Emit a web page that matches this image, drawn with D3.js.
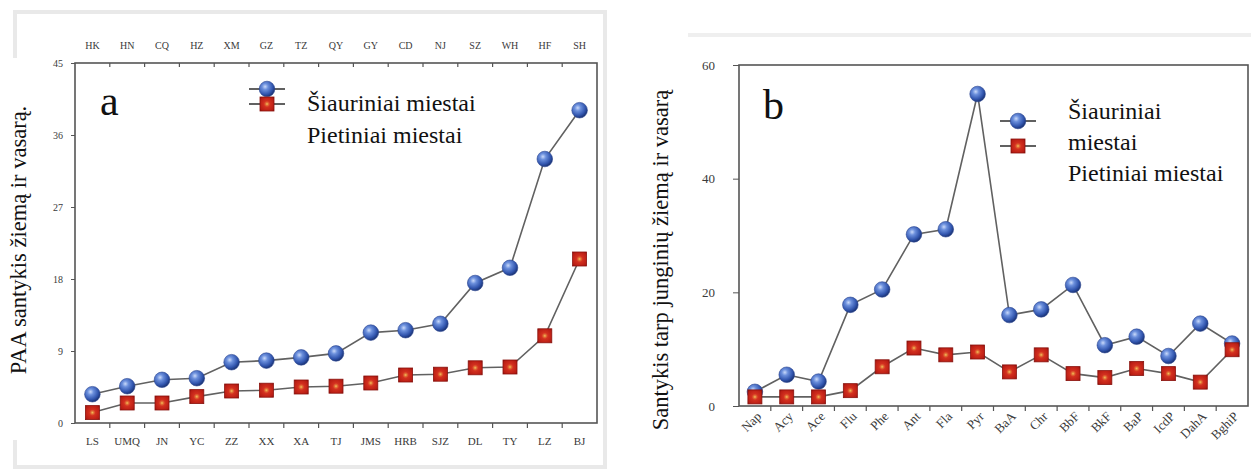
<!DOCTYPE html>
<html>
<head>
<meta charset="utf-8">
<script src="https://cdn.jsdelivr.net/npm/d3@7"></script>
<style>
body { margin: 0; background: #fff; }
svg { display: block; }
.tick text { font-family: "Liberation Serif", "DejaVu Serif", serif; fill: #3a3a3a; }
</style>
</head>
<body>
<svg id="ChartSvg" width="1251" height="473"></svg>
<script>
// panel a: ratio winter/summer per city
var citiesNorth = ['LS', 'UMQ', 'JN', 'YC', 'ZZ', 'XX', 'XA', 'TJ', 'JMS', 'HRB', 'SJZ', 'DL', 'TY', 'LZ', 'BJ']
var citiesSouth = ['HK', 'HN', 'CQ', 'HZ', 'XM', 'GZ', 'TZ', 'QY', 'GY', 'CD', 'NJ', 'SZ', 'WH', 'HF', 'SH']
var northA = [3.6, 4.6, 5.4, 5.6, 7.6, 7.8, 8.2, 8.7, 11.3, 11.6, 12.4, 17.5, 19.4, 33.0, 39.1]
var southA = [1.3, 2.5, 2.5, 3.3, 4.0, 4.1, 4.5, 4.6, 5.0, 6.0, 6.1, 6.9, 7.0, 10.9, 20.5]
var ticksA = [0, 9, 18, 27, 36, 45]

// panel b: ratio per compound
var compounds = ['Nap', 'Acy', 'Ace', 'Flu', 'Phe', 'Ant', 'Fla', 'Pyr', 'BaA', 'Chr', 'BbF', 'BkF', 'BaP', 'IcdP', 'DahA', 'BghiP']
var northB = [2.5, 5.5, 4.3, 17.8, 20.5, 30.2, 31.1, 54.9, 16.0, 17.0, 21.3, 10.7, 12.2, 8.8, 14.5, 11.0]
var southB = [1.6, 1.6, 1.6, 2.7, 6.9, 10.2, 9.0, 9.5, 6.0, 9.0, 5.7, 5.0, 6.6, 5.7, 4.2, 9.9]
var ticksB = [0, 20, 40, 60]

var legendText = ['Šiauriniai miestai', 'Pietiniai miestai']

var svg = d3.select('#ChartSvg')
var serif = '"Liberation Serif", "DejaVu Serif", serif'

var defs = svg.append('defs')
var ball = defs.append('radialGradient').attr('id', 'ball')
    .attr('cx', '38%').attr('cy', '35%').attr('r', '65%')
ball.append('stop').attr('offset', '0%').attr('stop-color', '#c9d9fa')
ball.append('stop').attr('offset', '30%').attr('stop-color', '#6b8fdc')
ball.append('stop').attr('offset', '75%').attr('stop-color', '#3155ae')
ball.append('stop').attr('offset', '100%').attr('stop-color', '#1c3577')
var box = defs.append('radialGradient').attr('id', 'box')
    .attr('cx', '50%').attr('cy', '50%').attr('r', '70%')
box.append('stop').attr('offset', '0%').attr('stop-color', '#f2c25a')
box.append('stop').attr('offset', '16%').attr('stop-color', '#e06a34')
box.append('stop').attr('offset', '32%').attr('stop-color', '#d3301f')
box.append('stop').attr('offset', '80%').attr('stop-color', '#b81c14')
box.append('stop').attr('offset', '100%').attr('stop-color', '#7e0f0b')

// faint borders of the source figure
svg.append('rect').attr('x', 15).attr('y', 12).attr('width', 590).attr('height', 455)
    .attr('fill', 'none').attr('stroke', '#e9e9e9').attr('stroke-width', 4)
svg.append('rect').attr('x', 4).attr('y', 58).attr('width', 36).attr('height', 382).attr('fill', '#fff')
svg.append('line').attr('x1', 688).attr('x2', 1251).attr('y1', 35).attr('y2', 35)
    .attr('stroke', '#efefef').attr('stroke-width', 4)

function drawBall(g, x, y, r) {
    g.append('circle').attr('cx', x).attr('cy', y).attr('r', r)
        .attr('fill', 'url(#ball)').attr('stroke', '#2a4590').attr('stroke-width', 0.6)
}
function drawBox(g, x, y, s) {
    g.append('rect').attr('x', x - s / 2).attr('y', y - s / 2).attr('width', s).attr('height', s)
        .attr('fill', 'url(#box)').attr('stroke', '#8a130e').attr('stroke-width', 0.8)
}

function drawPanel(p) {
    var g = svg.append('g')
    var x = d3.scaleBand().domain(p.cats).range([p.left, p.right]).padding(0)
    var y = d3.scaleLinear().domain([0, p.ymax]).range([p.bottom, p.top])
    var cx = function (i) { return x(p.cats[i]) + x.bandwidth() / 2 }

    g.append('rect').attr('x', p.left).attr('y', p.top)
        .attr('width', p.right - p.left).attr('height', p.bottom - p.top)
        .attr('fill', '#fff').attr('stroke', '#555').attr('stroke-width', 1.6)

    var yAxis = g.append('g').attr('transform', `translate(${p.left},0)`)
        .call(d3.axisLeft(y).tickValues(p.yticks).tickSize(p.ytickSize).tickPadding(p.ytickPad))
    yAxis.select('.domain').remove()
    yAxis.selectAll('.tick line').attr('stroke', '#555')
    yAxis.selectAll('text').style('font-size', p.yfont + 'px')

    var xAxis = g.append('g').attr('transform', `translate(0,${p.bottom})`)
        .call(d3.axisBottom(x).tickSize(0).tickPadding(p.xtickPad))
    xAxis.select('.domain').remove()
    xAxis.selectAll('text').style('font-size', p.xfont + 'px')
    if (p.rotate) {
        xAxis.selectAll('text')
            .attr('text-anchor', 'end')
            .attr('dy', '0.35em')
            .attr('transform', `translate(4,${p.xtickPad}) rotate(-45)`)
            .attr('y', 0).attr('x', 0)
    }
    // ticks on band boundaries
    for (i = 1; i < p.cats.length; i++) {
        g.append('line').attr('x1', x(p.cats[i])).attr('x2', x(p.cats[i]))
            .attr('y1', p.bottom).attr('y2', p.bottom + 5).attr('stroke', '#555').attr('stroke-width', 1.2)
    }
    if (p.topCats) {
        var xTop = d3.scaleBand().domain(p.topCats).range([p.left, p.right]).padding(0)
        var topAxis = g.append('g').attr('transform', `translate(0,${p.top})`)
            .call(d3.axisTop(xTop).tickSize(0).tickPadding(14))
        topAxis.select('.domain').remove()
        topAxis.selectAll('text').style('font-size', '10px')
        for (i = 1; i < p.topCats.length; i++) {
            g.append('line').attr('x1', xTop(p.topCats[i])).attr('x2', xTop(p.topCats[i]))
                .attr('y1', p.top).attr('y2', p.top + 4).attr('stroke', '#555').attr('stroke-width', 1.2)
        }
    }

    var line = d3.line().x(function (d, i) { return cx(i) }).y(function (d) { return y(d) })
    g.append('path').datum(p.north).attr('d', line)
        .attr('fill', 'none').attr('stroke', '#616161').attr('stroke-width', 1.6)
    g.append('path').datum(p.south).attr('d', line)
        .attr('fill', 'none').attr('stroke', '#616161').attr('stroke-width', 1.6)
    for (i = 0; i < p.north.length; i++) drawBall(g, cx(i), y(p.north[i]), 7.8)
    for (i = 0; i < p.south.length; i++) drawBox(g, cx(i), y(p.south[i]), 14)

    // panel letter
    g.append('text').attr('x', p.letterX).attr('y', p.letterY)
        .style('font-family', serif).style('font-size', '42px').attr('fill', '#111')
        .text(p.letter)

    // y label
    g.append('text')
        .attr('transform', `translate(${p.labelX},${p.labelY}) rotate(-90)`)
        .attr('text-anchor', 'middle')
        .style('font-family', serif).style('font-size', '22.5px').attr('fill', '#111')
        .text(p.label)

    // legend
    var lg = g.append('g')
    lg.append('line').attr('x1', p.legX - 18).attr('x2', p.legX + 18).attr('y1', p.legY1).attr('y2', p.legY1)
        .attr('stroke', '#616161').attr('stroke-width', 2)
    lg.append('line').attr('x1', p.legX - 18).attr('x2', p.legX + 18).attr('y1', p.legY2).attr('y2', p.legY2)
        .attr('stroke', '#616161').attr('stroke-width', 2)
    drawBall(lg, p.legX, p.legY1, 7.8)
    drawBox(lg, p.legX, p.legY2, 14)
    p.legLines.forEach(function (t, k) {
        lg.append('text').attr('x', p.legTextX).attr('y', p.legTextY + k * p.legStep)
            .style('font-family', serif).style('font-size', '24px').attr('fill', '#111')
            .text(t)
    })
}

drawPanel({
    cats: citiesNorth, topCats: citiesSouth, north: northA, south: southA,
    ymax: 45, yticks: ticksA, left: 75, right: 597, top: 63, bottom: 423,
    ytickSize: 4, ytickPad: 8, yfont: 10, xtickPad: 14, xfont: 11, rotate: false,
    letter: 'a', letterX: 100, letterY: 115,
    label: 'PAA santykis žiemą ir vasarą.', labelX: 26, labelY: 240,
    legX: 267, legY1: 89, legY2: 104, legTextX: 307,
    legTextY: 111, legStep: 32, legLines: legendText
})

drawPanel({
    cats: compounds, north: northB, south: southB,
    ymax: 60, yticks: ticksB, left: 739, right: 1248, top: 65, bottom: 406,
    ytickSize: 6, ytickPad: 18, yfont: 13, xtickPad: 8, xfont: 13, rotate: true,
    letter: 'b', letterX: 763, letterY: 119,
    label: 'Santykis tarp junginių žiemą ir vasarą', labelX: 668, labelY: 260,
    legX: 1018, legY1: 121, legY2: 146, legTextX: 1068,
    legTextY: 119, legStep: 31, legLines: ['Šiauriniai', 'miestai', 'Pietiniai miestai']
})
</script>
</body>
</html>
